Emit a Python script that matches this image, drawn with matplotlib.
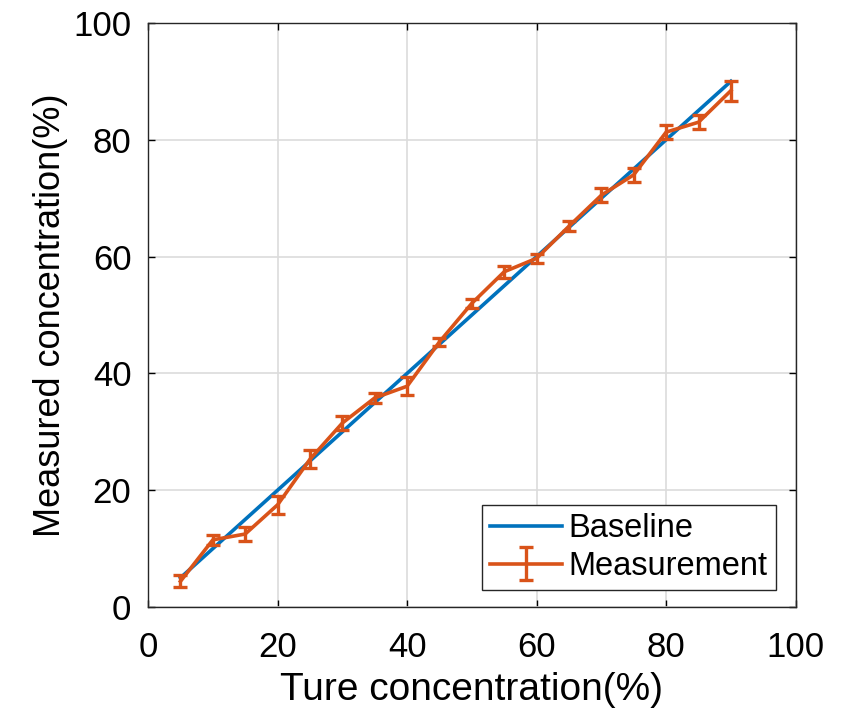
import matplotlib.pyplot as plt

plt.rcParams['font.family'] = ['Liberation Sans', 'DejaVu Sans']

# data
true_conc = [5, 10, 15, 20, 25, 30, 35, 40, 45, 50, 55, 60, 65, 70, 75, 80, 85, 90]
measured = [4.4, 11.5, 12.5, 17.5, 25.3, 31.5, 35.8, 37.8, 45.4, 52.0, 57.4, 59.7, 65.2, 70.5, 74.0, 81.3, 83.0, 88.4]
errors = [1.0, 0.8, 1.2, 1.5, 1.5, 1.2, 0.8, 1.5, 0.7, 0.8, 1.0, 0.8, 0.8, 1.2, 1.2, 1.2, 1.2, 1.7]
baseline_x = [5, 90]
baseline_y = [5, 90]

fig = plt.figure(figsize=(8.51, 7.15), dpi=100)
ax = fig.add_axes([0.174, 0.151, 0.761, 0.817])

ax.plot(baseline_x, baseline_y, color='#0072BD', lw=2.6, label='Baseline')
ax.errorbar(true_conc, measured, yerr=errors, color='#D95319', lw=2.6,
            elinewidth=2.4, capsize=5, capthick=2.4, label='Measurement')

ax.set_xlim(0, 100)
ax.set_ylim(0, 100)
ax.set_xticks(range(0, 101, 20))
ax.set_yticks(range(0, 101, 20))
ax.grid(True, color='#dcdcdc', lw=1.2)
ax.set_axisbelow(True)
ax.tick_params(direction='in', labelsize=25, length=5, width=1, top=True, right=True,
               labeltop=False, labelright=False)
ax.tick_params(axis='x', pad=17)
ax.tick_params(axis='y', pad=12)
for s in ax.spines.values():
    s.set_linewidth(1.0)
    s.set_color('#262626')

ax.set_xlabel('Ture concentration(%)', fontsize=28, labelpad=6)
ax.set_ylabel('Measured concentration(%)', fontsize=26, labelpad=4)

ax.legend(loc='lower right', fontsize=23.5, frameon=True, fancybox=False,
          edgecolor='#262626', framealpha=1, borderpad=0.25, handlelength=2.2,
          handletextpad=0.2, labelspacing=0.2, borderaxespad=0,
          bbox_to_anchor=(0.969, 0.029))

fig.savefig('out.png', dpi=100)
